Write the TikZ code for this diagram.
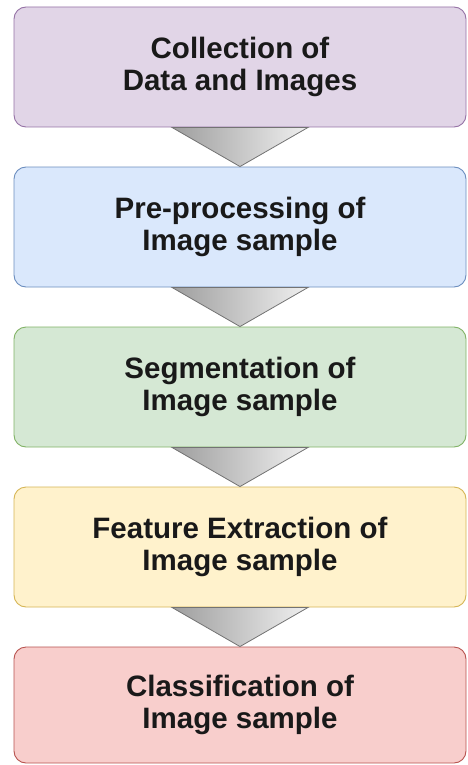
\documentclass[tikz,border=0pt]{standalone}
\usepackage{fontspec}
\setmainfont{Liberation Sans}
\usetikzlibrary{calc}
\definecolor{f1}{HTML}{E1D5E7}\definecolor{d1}{HTML}{9673A6}
\definecolor{f2}{HTML}{DAE8FC}\definecolor{d2}{HTML}{6C8EBF}
\definecolor{f3}{HTML}{D5E8D4}\definecolor{d3}{HTML}{82B366}
\definecolor{f4}{HTML}{FFF2CC}\definecolor{d4}{HTML}{D6B656}
\definecolor{f5}{HTML}{F8CECC}\definecolor{d5}{HTML}{B85450}
\tikzset{
  stagebox/.style={rounded corners=12pt, line width=0.9pt, minimum width=452pt,
    minimum height=120pt, inner sep=0pt, align=center,
    font=\fontsize{29.5}{32}\selectfont\bfseries, text=black!90},
  funnel/.style={left color=black!38, right color=black!6, draw=black!55, line width=0.8pt}
}
\begin{document}
\begin{tikzpicture}[x=1pt,y=-1pt]
\useasboundingbox (0,0) rectangle (468,765);
\fill[white] (0,0) rectangle (468,765);
\node[stagebox, fill=f1, draw=d1] (b1) at (240,67) {Collection of\\Data and Images};
\node[stagebox, fill=f2, draw=d2] (b2) at (240,227) {Pre-processing of\\Image sample};
\node[stagebox, fill=f3, draw=d3] (b3) at (240,387) {Segmentation of\\Image sample};
\node[stagebox, fill=f4, draw=d4] (b4) at (240,547) {Feature Extraction of\\Image sample};
\node[stagebox, fill=f5, draw=d5, minimum height=116pt] (b5) at (240,705) {Classification of\\Image sample};
\foreach \a/\b in {b1/b2,b2/b3,b3/b4,b4/b5}{
  \path[funnel] ($(\a.south)+(-68,0)$) -- ($(\a.south)+(68,0)$) -- (\b.north) -- cycle;
}
\end{tikzpicture}
\end{document}
